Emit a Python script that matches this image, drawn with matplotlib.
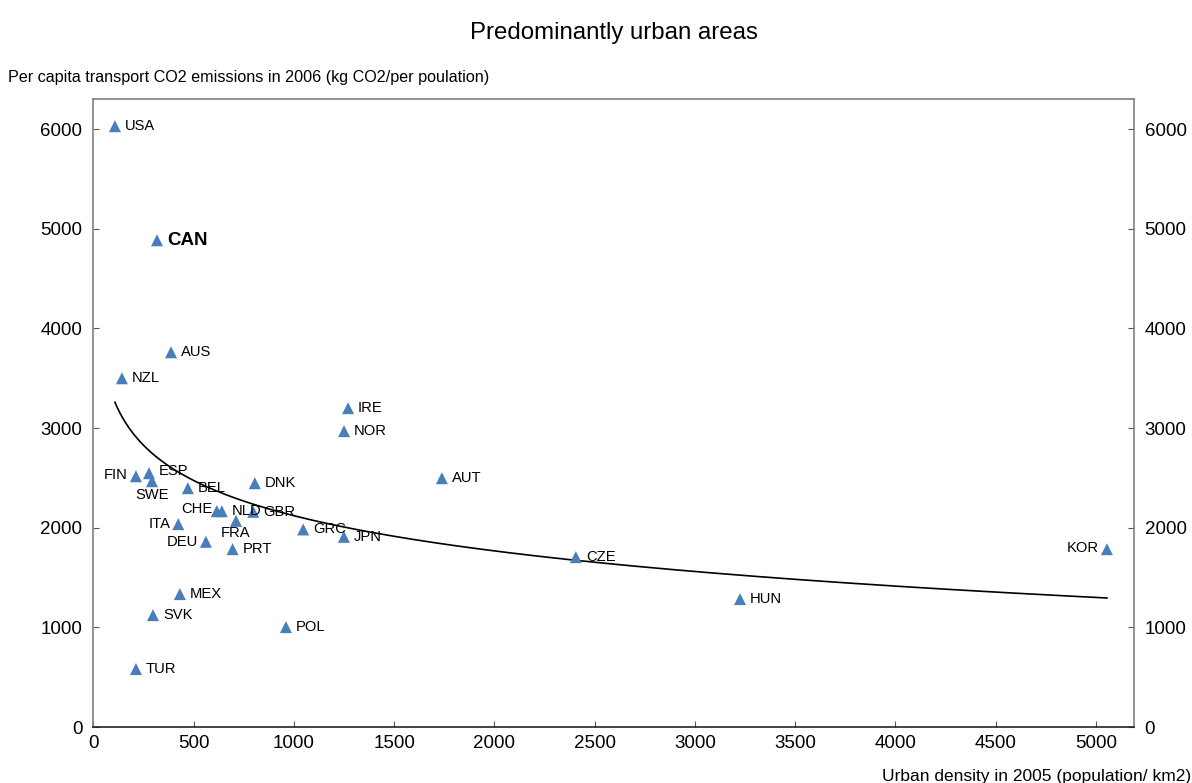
import numpy as np
import matplotlib
matplotlib.use("Agg")
import matplotlib.pyplot as plt

plt.rcParams['font.family'] = ['Liberation Sans', 'DejaVu Sans']

countries = ["USA", "CAN", "AUS", "NZL", "IRE", "NOR", "AUT", "FIN", "ESP", "SWE",
             "BEL", "DNK", "CHE", "NLD", "GBR", "FRA", "ITA", "DEU", "PRT", "GRC",
             "JPN", "MEX", "SVK", "TUR", "POL", "CZE", "HUN", "KOR"]
density = [107, 317, 387, 142, 1270, 1250, 1738, 212, 277, 292,
           471, 805, 615, 640, 797, 711, 423, 561, 694, 1046,
           1249, 431, 297, 212, 960, 2406, 3225, 5055]
emissions = [6030, 4885, 3761, 3500, 3200, 2969, 2497, 2517, 2547, 2467,
             2397, 2447, 2166, 2166, 2160, 2069, 2036, 1859, 1785, 1983,
             1909, 1334, 1123, 582, 1003, 1705, 1284, 1785]

x_ticks = [0, 500, 1000, 1500, 2000, 2500, 3000, 3500, 4000, 4500, 5000]
y_ticks = [0, 1000, 2000, 3000, 4000, 5000, 6000]

# label placement: (dx, dy) in pixels, horizontal alignment
label_pos = {
    "FIN": (-8, 1, "right"), "ESP": (10, 2, "left"), "SWE": (0, -14, "center"),
    "CHE": (-4, 2, "right"), "FRA": (0, -12, "center"), "ITA": (-8, 0, "right"),
    "DEU": (-8, 0, "right"), "KOR": (-8, 1, "right"),
}

fig = plt.figure(figsize=(11.92, 7.83), dpi=100)
ax = fig.add_axes([0.0784, 0.0715, 0.8726, 0.8017])

x = np.array(density, dtype=float)
y = np.array(emissions, dtype=float)

# logarithmic trend line over the data range
b, a = np.polyfit(np.log(x), y, 1)
xs = np.linspace(x.min(), x.max(), 400)
ax.plot(xs, a + b * np.log(xs), color="black", lw=1.2, zorder=2)

ax.scatter(x, y, marker="^", s=75, color="#4A7EBB", edgecolors="none", zorder=3)

for name, xi, yi in zip(countries, density, emissions):
    dx, dy, ha = label_pos.get(name, (10, 0, "left"))
    if name == "CAN":
        ax.annotate(name, (xi, yi), xytext=(dx * 0.72, dy * 0.72), textcoords="offset points",
                    ha=ha, va="center", fontsize=13.5, fontweight="bold")
    else:
        ax.annotate(name, (xi, yi), xytext=(dx * 0.72, dy * 0.72), textcoords="offset points",
                    ha=ha, va="center", fontsize=10.6)

ax.set_xlim(0, 5188)
ax.set_ylim(0, 6300)
ax.set_xticks(x_ticks)
ax.set_yticks(y_ticks)
ax.tick_params(axis="both", direction="in", length=4, labelsize=13.5, color="#555555")
ax.tick_params(axis="y", right=True, labelright=True, pad=8)
ax.tick_params(axis="x", pad=6)

for side in ["left", "right", "top"]:
    ax.spines[side].set_color("#808080")
    ax.spines[side].set_linewidth(1.2)
ax.spines["bottom"].set_color("#222222")
ax.spines["bottom"].set_linewidth(1.2)

fig.text(0.5147, 0.958, "Predominantly urban areas", ha="center", va="center", fontsize=17.3)
fig.text(0.007, 0.901, "Per capita transport CO2 emissions in 2006 (kg CO2/per poulation)",
         ha="left", va="center", fontsize=11.6)
fig.text(0.999, 0.008, "Urban density in 2005 (population/ km2)", ha="right", va="center",
         fontsize=12.5)

fig.savefig("out.png", dpi=100)
